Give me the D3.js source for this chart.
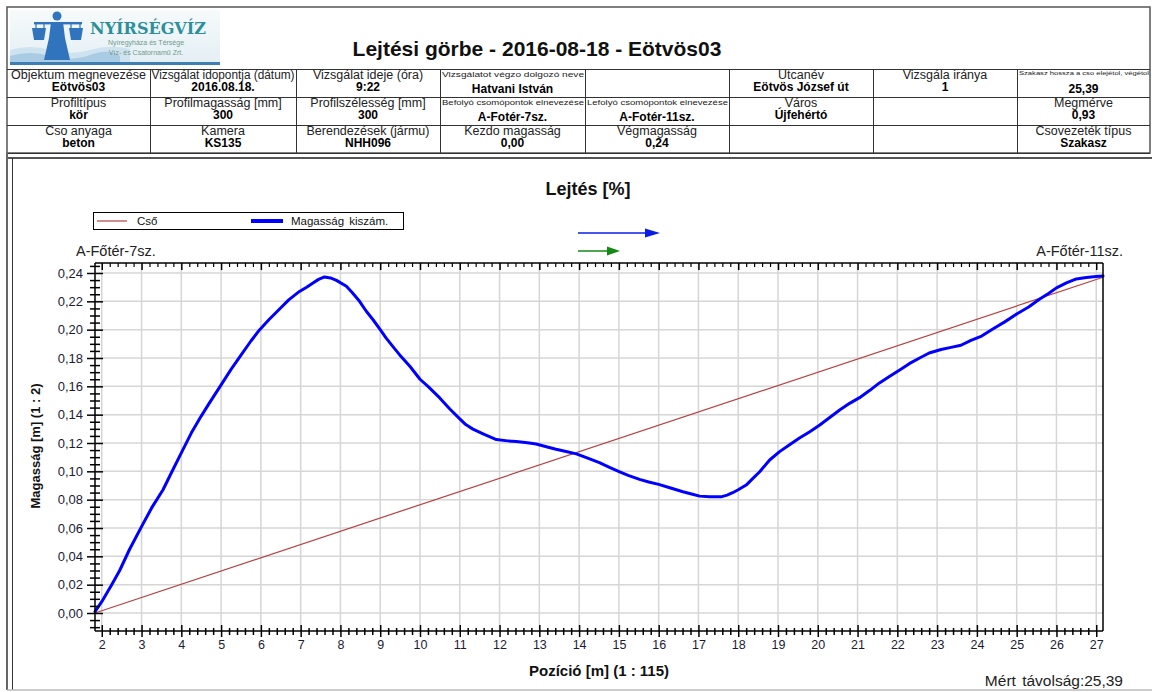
<!DOCTYPE html>
<html>
<head>
<meta charset="utf-8">
<script src="https://cdn.jsdelivr.net/npm/d3@7"></script>
<style>
body{margin:0;background:#fff;}
svg{font-family:"Liberation Sans",Arial,sans-serif;display:block;}
</style>
</head>
<body>
<div id="chart"></div>
<script>
// header table
var headLabels = [
  ["Objektum megnevezése","Vizsgálat idopontja (dátum)","Vizsgálat ideje (óra)","Vizsgálatot végzo dolgozó neve","","Utcanév","Vizsgála iránya","Szakasz hossza a cso elejétol, végétol"],
  ["Profiltípus","Profilmagasság [mm]","Profilszélesség [mm]","Befolyó csomópontok elnevezése","Lefolyó csomópontok elnevezése","Város","","Megmérve"],
  ["Cso anyaga","Kamera","Berendezések (jármu)","Kezdo magasság","Végmagasság","","","Csovezeték típus"]
];
var headValues = [
  ["Eötvös03","2016.08.18.","9:22","Hatvani István","","Eötvös József út","1","25,39"],
  ["kör","300","300","A-Fotér-7sz.","A-Fotér-11sz.","Újfehértó","","0,93"],
  ["beton","KS135","NHH096","0,00","0,24","","","Szakasz"]
];
var tinyLabels = {"Vizsgálatot végzo dolgozó neve":8,"Befolyó csomópontok elnevezése":7,"Lefolyó csomópontok elnevezése":7,"Szakasz hossza a cso elejétol, végétol":6};

// chart data
var posX = [1.83,2.0,2.25,2.45,2.7,3.0,3.25,3.54,3.75,4.0,4.25,4.5,4.7,5.0,5.25,5.5,5.75,5.97,6.2,6.47,6.7,6.97,7.15,7.31,7.45,7.6,7.75,7.9,8.15,8.3,8.48,8.65,8.82,9.0,9.15,9.32,9.49,9.75,10.0,10.2,10.49,10.75,11.0,11.15,11.33,11.6,11.92,12.2,12.42,12.7,12.92,13.2,13.42,13.7,13.93,14.2,14.51,14.75,15.02,15.25,15.52,15.75,16.0,16.3,16.61,16.85,17.03,17.28,17.57,17.72,17.86,18.0,18.2,18.35,18.54,18.79,19.04,19.3,19.54,19.8,20.05,20.3,20.55,20.8,21.05,21.3,21.55,21.8,22.06,22.3,22.56,22.8,23.1,23.35,23.6,23.85,24.12,24.4,24.7,25.0,25.3,25.58,25.8,26.0,26.25,26.5,26.75,27.0,27.17];
var heightY = [0.001,0.008,0.020,0.030,0.045,0.061,0.074,0.087,0.099,0.113,0.127,0.139,0.148,0.161,0.172,0.182,0.192,0.200,0.207,0.2146,0.221,0.227,0.230,0.233,0.2355,0.2372,0.2365,0.2348,0.2306,0.226,0.220,0.213,0.207,0.200,0.194,0.188,0.1822,0.174,0.165,0.160,0.152,0.144,0.137,0.133,0.1298,0.1262,0.1224,0.1215,0.121,0.1202,0.1193,0.1172,0.1156,0.1138,0.1123,0.1095,0.1061,0.1030,0.0997,0.0970,0.0943,0.0925,0.0908,0.0882,0.0856,0.0838,0.0825,0.082,0.082,0.0832,0.0849,0.087,0.0903,0.0945,0.0997,0.108,0.1139,0.119,0.1235,0.128,0.1327,0.138,0.1433,0.148,0.152,0.157,0.1624,0.167,0.1716,0.176,0.180,0.1835,0.186,0.1875,0.189,0.1925,0.1955,0.2005,0.2055,0.211,0.216,0.2216,0.2255,0.2295,0.2330,0.2358,0.2368,0.2376,0.2378];
var pipeX = [1.83, 27.17];
var pipeY = [0.0, 0.237];
var xTickVals = [2,3,4,5,6,7,8,9,10,11,12,13,14,15,16,17,18,19,20,21,22,23,24,25,26,27];
var yTickVals = [0,0.02,0.04,0.06,0.08,0.10,0.12,0.14,0.16,0.18,0.20,0.22,0.24];

var W = 1152, H = 692;
var svg = d3.select("#chart").append("svg")
  .attr("width", W)
  .attr("height", H);

// ---------- header ----------
var cols = [7,150,296,440,585,729,873,1017,1150];
var rows = [69,97,125,153];

svg.append("rect")
  .attr("x",7).attr("y",7).attr("width",1143).attr("height",146)
  .attr("fill","none").attr("stroke","#555").attr("stroke-width",1.5);

// logo
var logo = svg.append("g");
var grad = svg.append("defs").append("linearGradient").attr("id","lg").attr("x1",0).attr("y1",0).attr("x2",0).attr("y2",1);
grad.append("stop").attr("offset","0%").attr("stop-color","#f6fafb");
grad.append("stop").attr("offset","100%").attr("stop-color","#e4eff4");
logo.append("rect").attr("x",10).attr("y",10).attr("width",210).attr("height",53).attr("fill","url(#lg)");
logo.append("path").attr("d","M10,50 Q30,44 50,50 T90,50 T130,49 L130,63 L10,63 Z").attr("fill","#cfe2ef");
logo.append("path").attr("d","M10,56 Q30,50 50,56 T90,55 T120,56 L120,63 L10,63 Z").attr("fill","#a9cbe4");
logo.append("rect").attr("x",10).attr("y",62).attr("width",210).attr("height",3).attr("fill","#3c7fb2");
var fig = "#2f74bd";
logo.append("circle").attr("cx",57).attr("cy",16).attr("r",4.5).attr("fill",fig);
logo.append("path").attr("d","M51,22 L63,22 L65,38 L70,60 L44,60 L49,38 Z").attr("fill",fig);
logo.append("rect").attr("x",34).attr("y",22).attr("width",48).attr("height",2.4).attr("fill",fig);
logo.append("path").attr("d","M32,28 L46,28 L44,40 L34,40 Z").attr("fill",fig);
logo.append("path").attr("d","M69,28 L83,28 L81,40 L71,40 Z").attr("fill",fig);
logo.append("path").attr("d","M36,24 L36,28 M44,24 L44,28 M71,24 L71,28 M80,24 L80,28").attr("stroke",fig).attr("stroke-width",1.2);
logo.append("text").attr("x",90).attr("y",34)
  .attr("font-family","'DejaVu Serif','Liberation Serif',serif").attr("font-weight","bold")
  .attr("font-size",17).attr("fill","#2e8f9a").attr("textLength",116).attr("lengthAdjust","spacingAndGlyphs")
  .text("NYÍRSÉGVÍZ");
logo.append("text").attr("x",146).attr("y",45).attr("text-anchor","middle")
  .attr("font-size",7).attr("fill","#6f9c8c").text("Nyíregyháza és Térsége");
logo.append("text").attr("x",146).attr("y",55).attr("text-anchor","middle")
  .attr("font-size",7).attr("fill","#6f9c8c").text("Víz- és Csatornamű Zrt.");

svg.append("text")
  .attr("x",537).attr("y",56).attr("text-anchor","middle")
  .attr("font-size",21).attr("font-weight","bold").attr("fill","#111")
  .text("Lejtési görbe - 2016-08-18 - Eötvös03");

// table lines
var tbl = svg.append("g").attr("stroke","#333").attr("stroke-width",1);
rows.forEach(function(r){
  tbl.append("line").attr("x1",7).attr("x2",1150).attr("y1",r+0.5).attr("y2",r+0.5);
});
cols.slice(1,-1).forEach(function(c){
  tbl.append("line").attr("x1",c+0.5).attr("x2",c+0.5).attr("y1",69).attr("y2",153);
});

headLabels.forEach(function(row, ri){
  row.forEach(function(lab, ci){
    var x0 = cols[ci], x1 = cols[ci+1], rowTop = rows[ri];
    var cw = x1 - x0 - 3;
    var tiny = tinyLabels[lab];
    if (lab) {
      var t = svg.append("text").attr("fill","#222");
      if (tiny) {
        t.attr("x", x0+2).attr("y", rowTop + (tiny < 7 ? 6 : 8)).attr("font-size", tiny)
          .attr("textLength", cw).attr("lengthAdjust","spacingAndGlyphs");
      } else {
        t.attr("x",(x0+x1)/2).attr("y",rowTop+10).attr("text-anchor","middle").attr("font-size",12.5);
      }
      t.text(lab);
      if (!tiny && t.node().getComputedTextLength() > cw) {
        t.attr("textLength", cw).attr("lengthAdjust","spacingAndGlyphs");
      }
    }
    var val = headValues[ri][ci];
    if (val) {
      svg.append("text").attr("x",(x0+x1)/2).attr("y", rowTop + (tiny ? 24 : 22))
        .attr("text-anchor","middle").attr("font-size",12).attr("font-weight","bold").attr("fill","#000")
        .text(val);
    }
  });
});

// ---------- chart panel frame ----------
svg.append("line").attr("x1",7).attr("x2",W).attr("y1",158).attr("y2",158).attr("stroke","#555").attr("stroke-width",2);
svg.append("line").attr("x1",7).attr("x2",7).attr("y1",153).attr("y2",690).attr("stroke","#666").attr("stroke-width",2);
svg.append("line").attr("x1",12.5).attr("x2",12.5).attr("y1",158).attr("y2",690).attr("stroke","#333").attr("stroke-width",1);
svg.append("line").attr("x1",7).attr("x2",W).attr("y1",690).attr("y2",690).attr("stroke","#bbb").attr("stroke-width",1.5);

// ---------- plot ----------
var plotTop = 263, plotBottom = 631, plotLeft = 95, plotRight = 1103;
var x = d3.scaleLinear().domain([1.83, 27.17]).range([plotLeft, plotRight]);
var y = d3.scaleLinear().domain([0, 0.24]).range([613, 273]);

// grid
var grid = svg.append("g").attr("stroke","#d6d6d6").attr("stroke-width",1.5);
grid.selectAll("line.gx").data(xTickVals).join("line").attr("class","gx")
  .attr("x1",d=>x(d)).attr("x2",d=>x(d)).attr("y1",plotTop).attr("y2",plotBottom);
grid.selectAll("line.gy").data(yTickVals).join("line").attr("class","gy")
  .attr("x1",plotLeft).attr("x2",plotRight).attr("y1",d=>y(d)).attr("y2",d=>y(d));

// pipe and measured height
var line = d3.line().x(d=>x(d[0])).y(d=>y(d[1]));
svg.append("path")
  .datum(pipeX.map((v,i)=>[v,pipeY[i]]))
  .attr("d",line).attr("fill","none").attr("stroke","#b5403f").attr("stroke-width",1.2);
svg.append("path")
  .datum(posX.map((v,i)=>[v,heightY[i]]))
  .attr("d",line).attr("fill","none").attr("stroke","#0000ff").attr("stroke-width",3)
  .attr("stroke-linejoin","round").attr("stroke-linecap","round");

// frame
var frame = svg.append("g").attr("stroke","#000").attr("stroke-width",1.5);
frame.append("line").attr("x1",plotLeft).attr("x2",plotLeft).attr("y1",plotTop).attr("y2",plotBottom);
frame.append("line").attr("x1",plotRight).attr("x2",plotRight).attr("y1",plotTop).attr("y2",plotBottom);
frame.append("line").attr("x1",plotLeft).attr("x2",plotRight).attr("y1",plotTop).attr("y2",plotTop);
frame.append("line").attr("x1",plotLeft).attr("x2",plotRight).attr("y1",plotBottom).attr("y2",plotBottom);

var xMinor = d3.range(2, 27.17, 0.2).filter(d => Math.abs(d - Math.round(d)) > 0.01);
var yMinor = d3.range(-0.01, 0.246, 0.005).filter(d => Math.abs(d/0.02 - Math.round(d/0.02)) > 0.01);

// left axis (crossing ticks)
var yAx = svg.append("g").attr("transform","translate("+plotLeft+",0)")
  .call(d3.axisLeft(y).tickValues(yTickVals).tickSize(8).tickPadding(4)
    .tickFormat(d => d3.format(".2f")(d).replace(".", ",")));
yAx.select(".domain").remove();
yAx.selectAll(".tick line").attr("x1",8).attr("stroke-width",1.5);
yAx.selectAll("text").attr("font-size",13).attr("fill","#1b1b33").attr("font-family","'Liberation Sans',Arial,sans-serif");
var yAxm = svg.append("g").attr("transform","translate("+plotLeft+",0)")
  .call(d3.axisLeft(y).tickValues(yMinor).tickSize(5).tickFormat(""));
yAxm.select(".domain").remove();
yAxm.selectAll(".tick line").attr("x1",5).attr("stroke-width",1.5);

// bottom axis
var xAx = svg.append("g").attr("transform","translate(0,"+plotBottom+")")
  .call(d3.axisBottom(x).tickValues(xTickVals).tickSize(6).tickPadding(3).tickFormat(d3.format("d")));
xAx.select(".domain").remove();
xAx.selectAll(".tick line").attr("y1",-6).attr("stroke-width",1.5);
xAx.selectAll("text").attr("font-size",12.5).attr("fill","#1b1b33").attr("font-family","'Liberation Sans',Arial,sans-serif");
var xAxm = svg.append("g").attr("transform","translate(0,"+plotBottom+")")
  .call(d3.axisBottom(x).tickValues(xMinor).tickSize(4).tickFormat(""));
xAxm.select(".domain").remove();
xAxm.selectAll(".tick line").attr("y1",-3).attr("stroke-width",1.5);

// top ruler
var tAx = svg.append("g").attr("transform","translate(0,"+plotTop+")")
  .call(d3.axisBottom(x).tickValues(xTickVals).tickSize(7).tickFormat(""));
tAx.select(".domain").remove();
tAx.selectAll(".tick line").attr("stroke-width",1.5);
var tAxm = svg.append("g").attr("transform","translate(0,"+plotTop+")")
  .call(d3.axisBottom(x).tickValues(xMinor).tickSize(4).tickFormat(""));
tAxm.select(".domain").remove();
tAxm.selectAll(".tick line").attr("stroke-width",1.2);

// titles
svg.append("text").attr("x",588).attr("y",195).attr("text-anchor","middle")
  .attr("font-size",18).attr("font-weight","bold").attr("fill","#111").text("Lejtés [%]");
svg.append("text").attr("x",76).attr("y",256).attr("font-size",14.5).attr("fill","#222").text("A-Főtér-7sz.");
svg.append("text").attr("x",1123).attr("y",256).attr("text-anchor","end").attr("font-size",14.5).attr("fill","#222").text("A-Főtér-11sz.");
svg.append("text").attr("transform","translate(40,446) rotate(-90)").attr("text-anchor","middle")
  .attr("font-size",13).attr("font-weight","bold").attr("fill","#111").text("Magasság [m] (1 : 2)");
svg.append("text").attr("x",599).attr("y",676).attr("text-anchor","middle")
  .attr("font-size",15).attr("font-weight","bold").attr("fill","#111").text("Pozíció [m] (1 : 115)");
svg.append("text").attr("x",1123).attr("y",686).attr("text-anchor","end")
  .attr("font-size",15.5).attr("fill","#222").attr("word-spacing",2).text("Mért távolság:25,39");

// direction arrows
function arrow(x0, x1, yy, col, head){
  svg.append("line").attr("x1",x0).attr("x2",x1-head).attr("y1",yy).attr("y2",yy).attr("stroke",col).attr("stroke-width",1.5);
  svg.append("path").attr("d","M"+(x1-head)+","+(yy-4.5)+" L"+x1+","+yy+" L"+(x1-head)+","+(yy+4.5)+" Z").attr("fill",col);
}
arrow(578, 660, 233, "#0a1ee8", 15);
arrow(578, 620, 251, "#138a13", 13);

// legend
var lg = svg.append("g");
lg.append("rect").attr("x",93.5).attr("y",212.5).attr("width",310).attr("height",17)
  .attr("fill","#fff").attr("stroke","#000").attr("stroke-width",1);
lg.append("line").attr("x1",97).attr("x2",127).attr("y1",221).attr("y2",221).attr("stroke","#b5403f").attr("stroke-width",1.2);
lg.append("text").attr("x",137).attr("y",225).attr("font-size",11.5).attr("fill","#111").text("Cső");
lg.append("line").attr("x1",251).attr("x2",283).attr("y1",221).attr("y2",221).attr("stroke","#0000ff").attr("stroke-width",4);
lg.append("text").attr("x",291).attr("y",225).attr("font-size",11.5).attr("fill","#111").attr("word-spacing",2).text("Magasság kiszám.");
</script>
</body>
</html>
